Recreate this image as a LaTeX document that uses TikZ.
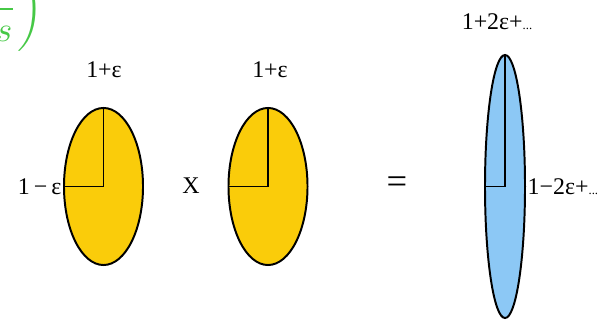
\documentclass[tikz,border=0pt]{standalone}
\usepackage{fontspec}
\setmainfont{Liberation Serif}
\usetikzlibrary{shapes.geometric}
\definecolor{gold}{RGB}{250,204,10}
\definecolor{sky}{RGB}{140,200,245}
\definecolor{leaf}{RGB}{70,200,70}

\begin{document}
\begin{tikzpicture}[x=0.025cm, y=-0.025cm,
  oval/.style={draw, ellipse, line width=1.4pt, inner sep=0pt},
  radius/.style={line width=1.4pt},
  lbl/.style={font=\fontsize{17}{20}\selectfont, inner sep=1pt},
]
\useasboundingbox (0,0) rectangle (609,320);

% CUT-OFF FORMULA
\node[text=leaf, anchor=east, inner sep=0pt, scale=2.5, transform shape] (frag) at (44,9) {$\displaystyle\left(\frac{d}{s}\right)$};

% LEFT FACTOR
\node[oval, fill=gold, minimum width=1.975cm, minimum height=3.925cm] (e1) at (103.5,186.5) {};
\draw[radius] (e1.north) -- (e1.center) -- (e1.west);
\node[lbl] (top1) at (104,70) {1+ε};
\node[lbl, anchor=east] (side1) at (e1.west) {1\,−\,ε};

\node[lbl] (times) at (191,186) {X};

% RIGHT FACTOR
\node[oval, fill=gold, minimum width=1.975cm, minimum height=3.925cm] (e2) at (268,186.5) {};
\draw[radius] (e2.north) -- (e2.center) -- (e2.west);
\node[lbl] (top2) at (270,70) {1+ε};

\node[lbl, font=\fontsize{26}{30}\selectfont] (equals) at (397,185) {=};

% PRODUCT
\node[oval, fill=sky, minimum width=1cm, minimum height=6.575cm] (e3) at (505,186.5) {};
\draw[radius] (e3.north) -- (e3.center) -- (e3.west);
\node[lbl] (top3) at (497,22) {1+2ε+{\fontsize{9}{10}\selectfont...}};
\node[lbl, anchor=west] (side3) at (e3.east) {1−2ε+{\fontsize{9}{10}\selectfont...}};
\end{tikzpicture}
\end{document}
